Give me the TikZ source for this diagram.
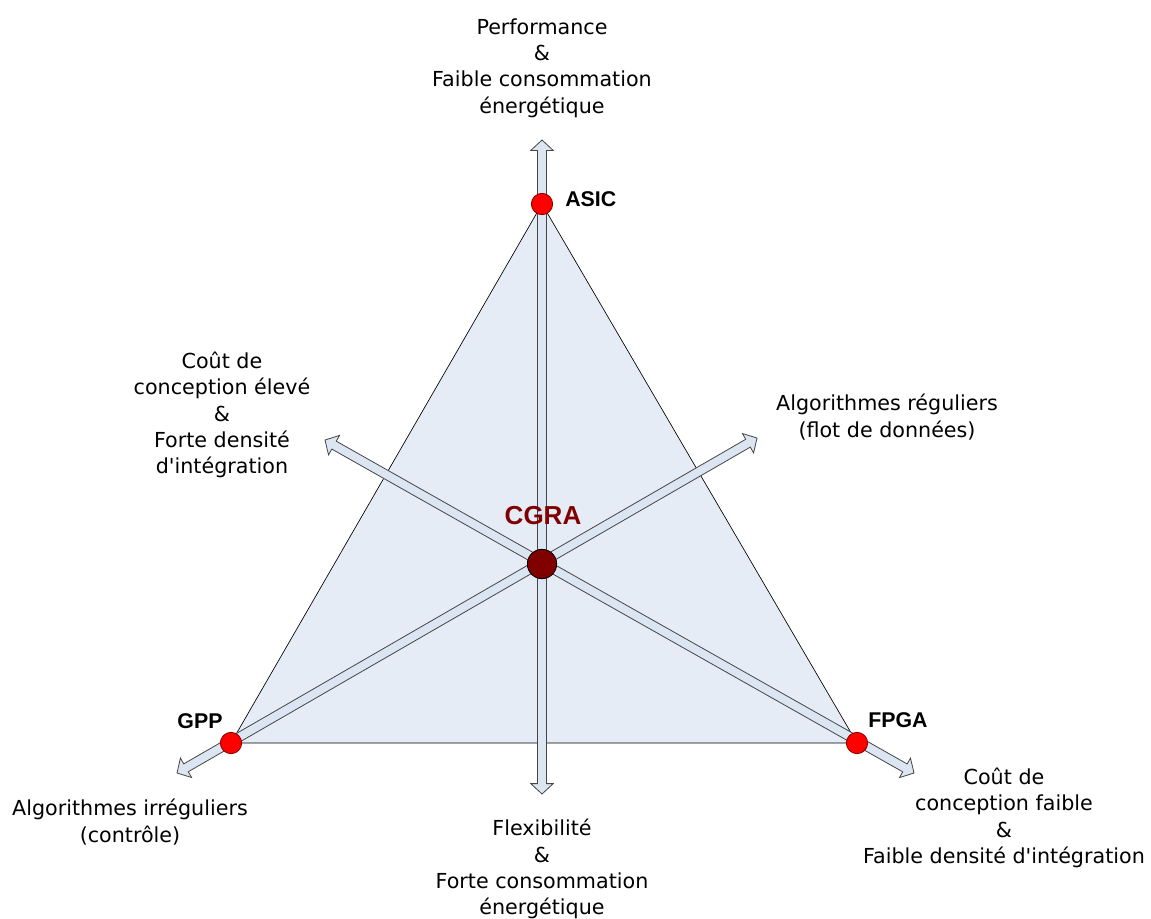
\documentclass[tikz,border=0pt]{standalone}
\usepackage{fontspec}
\setmainfont{DejaVu Sans}
\newfontfamily\labelfont{Liberation Sans}
\usetikzlibrary{calc}
\definecolor{trifill}{HTML}{E6ECF6}
\definecolor{arrowfill}{HTML}{DCE5F2}
\definecolor{arrowline}{HTML}{454545}
\definecolor{darkred}{HTML}{800000}
\tikzset{
  tri/.style={draw=black, line width=0.5pt, fill=trifill},
  barrow/.style={draw=arrowline, line width=0.6pt, fill=arrowfill, line join=miter},
  vertex/.style={circle, draw=darkred, line width=0.6pt, fill=red, minimum size=16pt, inner sep=0pt},
  hub/.style={circle, draw=black, line width=0.6pt, fill=darkred, minimum size=22pt, inner sep=0pt},
  tag/.style={font=\labelfont\bfseries\fontsize{16}{19}\selectfont, inner sep=0pt},
  note/.style={align=center, inner sep=0pt, font=\fontsize{15.5}{19.7}\selectfont},
}
\newcommand\apos{\textquotesingle}
% double-headed block arrow between two coordinates
\newcommand\hlen{7.8pt}
\newcommand\hwid{8.4pt}
\newcommand\swid{3.4pt}
\newcommand\blockarrow[2]{%
  \path ($(#1)!\hlen!(#2)$) coordinate (p) ($(#2)!\hlen!(#1)$) coordinate (q);
  \draw[barrow] (#1) -- ($(p)!\hwid!90:(#2)$) -- ($(p)!\swid!90:(#2)$)
    -- ($(q)!\swid!-90:(#1)$) -- ($(q)!\hwid!-90:(#1)$) -- (#2)
    -- ($(q)!\hwid!90:(#1)$) -- ($(q)!\swid!90:(#1)$)
    -- ($(p)!\swid!-90:(#2)$) -- ($(p)!\hwid!-90:(#2)$) -- cycle;}
\begin{document}
\begin{tikzpicture}[x=0.75pt, y=-0.75pt]
\useasboundingbox (0,0) rectangle (1151,918);

% corners of the triangle
\coordinate (A) at (542,204);
\coordinate (G) at (231,743);
\coordinate (F) at (857,743);
\coordinate (C) at (542,564);

\draw[tri] (A) -- (G) -- (F) -- cycle;

% arrow tips
\coordinate (vt) at (542,140);
\coordinate (vb) at (542,794);
\coordinate (d1a) at (177,773);
\coordinate (d1b) at (757,438);
\coordinate (d2a) at (325,440);
\coordinate (d2b) at (914,773);

\blockarrow{vt}{vb}
\blockarrow{d1a}{d1b}
\blockarrow{d2a}{d2b}

% points
\node[vertex] (asic) at (A) {};
\node[vertex] (gpp) at (G) {};
\node[vertex] (fpga) at (F) {};
\node[hub] (cgra) at (C) {};

\node[tag, anchor=west] (asicl) at (565,199) {ASIC};
\node[tag] (gppl) at (200,721) {GPP};
\node[tag] (fpgal) at (898,720) {FPGA};
\node[tag, text=darkred, font=\labelfont\bfseries\fontsize{19.5}{22}\selectfont] (cgral) at (543,516) {CGRA};

% axis descriptions
\node[note] (ntop) at (542,68) {Performance\\\&\\Faible consommation\\énergétique};
\node[note] (nbot) at (542,869) {Flexibilité\\\&\\Forte consommation\\énergétique};
\node[note] (nul) at (222,415) {Coût de\\conception élevé\\\&\\Forte densité\\d\apos intégration};
\node[note] (nur) at (887,417) {Algorithmes réguliers\\(flot de données)};
\node[note] (nll) at (130,822) {Algorithmes irréguliers\\(contrôle)};
\node[note] (nlr) at (1004,818) {Coût de\\conception faible\\\&\\Faible densité d\apos intégration};
\end{tikzpicture}
\end{document}
